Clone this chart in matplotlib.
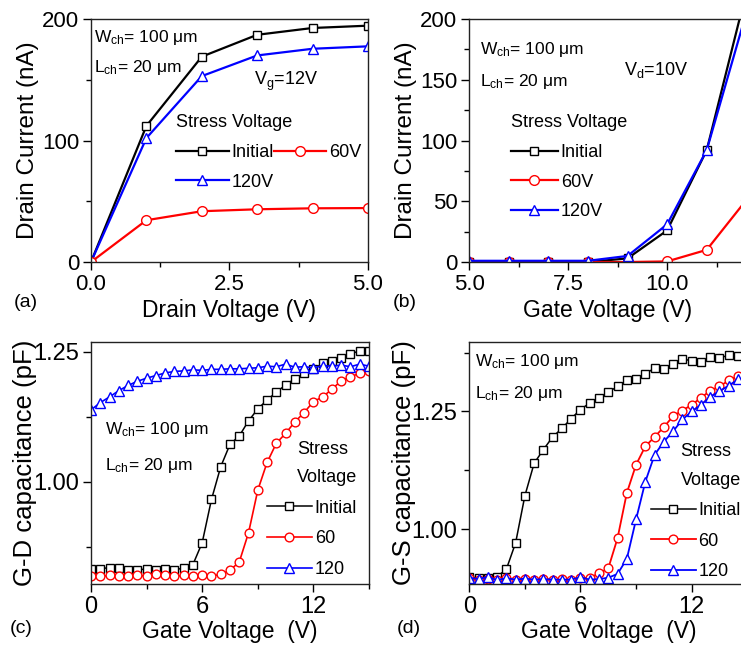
import numpy as np
import matplotlib
matplotlib.use("Agg")
from matplotlib import pyplot as plt

plt.rcParams['font.family'] = ['Liberation Sans', 'DejaVu Sans']
plt.rcParams['mathtext.fontset'] = 'custom'
plt.rcParams['mathtext.rm'] = 'Liberation Sans'
plt.rcParams['mathtext.it'] = 'Liberation Sans'

# (a) output curves at Vg = 12 V
drain_v = [0, 1, 2, 3, 4, 5]
id_vd_initial = [0, 112, 169, 187, 192.6, 194.5]
id_vd_60 = [0, 34.4, 41.8, 43.4, 44.2, 44.4]
id_vd_120 = [0, 102, 153, 170, 175.5, 177.5]

# (b) transfer curves at Vd = 10 V
gate_v = [5, 6, 7, 8, 9, 10, 11, 12]
id_vg_initial = [0, 0, 0, 0, 3, 26, 92, 222]
id_vg_60 = [0, 0, 0, 0, 0, 0.5, 10, 51]
id_vg_120 = [1, 1, 1, 1, 5, 31, 92, 205]

# (c), (d) C-V sweeps
cv_gate_v = [0, 0.5, 1, 1.5, 2, 2.5, 3, 3.5, 4, 4.5, 5, 5.5, 6, 6.5, 7, 7.5,
             8, 8.5, 9, 9.5, 10, 10.5, 11, 11.5, 12, 12.5, 13, 13.5, 14, 14.5, 15]
cgd_initial = [0.832, 0.833, 0.835, 0.834, 0.831, 0.830, 0.833, 0.831, 0.832, 0.831,
               0.834, 0.841, 0.883, 0.966, 1.029, 1.072, 1.088, 1.117, 1.140, 1.157,
               1.172, 1.186, 1.198, 1.208, 1.216, 1.228, 1.232, 1.238, 1.245, 1.252, 1.252]
cgd_60 = [0.819, 0.818, 0.820, 0.819, 0.818, 0.820, 0.819, 0.823, 0.820, 0.818,
          0.820, 0.819, 0.820, 0.819, 0.822, 0.830, 0.846, 0.902, 0.984, 1.037,
          1.074, 1.093, 1.115, 1.133, 1.154, 1.163, 1.178, 1.194, 1.202, 1.208, 1.213]
cgd_120 = [1.138, 1.152, 1.163, 1.175, 1.185, 1.193, 1.199, 1.204, 1.209, 1.212,
           1.213, 1.215, 1.214, 1.216, 1.216, 1.217, 1.217, 1.218, 1.219, 1.222,
           1.221, 1.226, 1.220, 1.221, 1.219, 1.223, 1.222, 1.224, 1.221, 1.226, 1.222]
cgs_initial = [0.898, 0.897, 0.896, 0.899, 0.915, 0.971, 1.071, 1.140, 1.169, 1.196,
               1.214, 1.235, 1.254, 1.268, 1.279, 1.291, 1.303, 1.316, 1.318, 1.330,
               1.342, 1.341, 1.350, 1.362, 1.357, 1.355, 1.366, 1.364, 1.369, 1.367, 1.368]
cgs_60 = [0.897, 0.892, 0.895, 0.893, 0.896, 0.893, 0.895, 0.892, 0.894, 0.893,
          0.895, 0.893, 0.896, 0.897, 0.906, 0.917, 0.981, 1.077, 1.137, 1.176,
          1.196, 1.217, 1.240, 1.252, 1.264, 1.279, 1.294, 1.303, 1.316, 1.325, 1.330]
cgs_120 = [0.897, 0.894, 0.899, 0.892, 0.896, 0.893, 0.895, 0.893, 0.894, 0.893,
           0.893, 0.893, 0.898, 0.893, 0.894, 0.897, 0.905, 0.937, 1.021, 1.101,
           1.158, 1.186, 1.208, 1.233, 1.250, 1.264, 1.281, 1.293, 1.305, 1.318, 1.322]

W_TEXT = r'W$_{\mathregular{ch}}$= 100 μm'
L_TEXT = r'L$_{\mathregular{ch}}$= 20 μm'

fig = plt.figure(figsize=(7.41, 6.46), dpi=100)
# axes boxes in figure fractions; right column runs past the figure edge
ax_a = fig.add_axes([0.1228, 0.5944, 0.3738, 0.3762])
ax_b = fig.add_axes([0.6333, 0.5944, 0.3738, 0.3762])
ax_c = fig.add_axes([0.1228, 0.0955, 0.3752, 0.3755])
ax_d = fig.add_axes([0.6333, 0.0955, 0.3752, 0.3755])


def style_axes(ax, tick_size):
    for sp in ax.spines.values():
        sp.set_linewidth(1.0)
        sp.set_color('#222222')
    ax.tick_params(which='both', direction='out', labelsize=tick_size,
                   top=False, right=False, pad=2.5)
    ax.tick_params(which='major', length=6, width=1)
    ax.tick_params(which='minor', length=3.5, width=1)


def draw(ax, x, y, marker, color, ms, lw, label):
    ax.plot(x, y, marker=marker, color=color, mfc='white', mec=color,
            ms=ms, lw=lw, mew=1.0, label=label)


def stress_legend(ax, anchor, **kw):
    leg = ax.legend(fontsize=13, title_fontsize=13, frameon=False, loc='upper left',
                    bbox_to_anchor=anchor, borderpad=0, handletextpad=0.15, **kw)
    leg.get_title().set_linespacing(1.9)
    return leg


# ---- (a)
draw(ax_a, drain_v, id_vd_initial, 's', 'black', 6, 1.6, 'Initial')
draw(ax_a, drain_v, id_vd_120, '^', 'blue', 7, 1.6, '120V')
draw(ax_a, drain_v, id_vd_60, 'o', 'red', 7, 1.6, '60V')
ax_a.set_xlim(0, 5)
ax_a.set_ylim(0, 200)
ax_a.set_xticks([0, 2.5, 5.0], ['0.0', '2.5', '5.0'])
ax_a.set_xticks([1.25, 3.75], minor=True)
ax_a.set_yticks([0, 100, 200])
ax_a.set_yticks([50, 150], minor=True)
ax_a.set_xlabel('Drain Voltage (V)', fontsize=16.5, labelpad=3)
ax_a.set_ylabel('Drain Current (nA)', fontsize=17.5, labelpad=2)
ax_a.text(0.01, 0.905, W_TEXT, transform=ax_a.transAxes, fontsize=12.5)
ax_a.text(0.01, 0.78, L_TEXT, transform=ax_a.transAxes, fontsize=12.5)
ax_a.text(0.59, 0.73, r'V$_{\mathregular{g}}$=12V', transform=ax_a.transAxes, fontsize=13)
stress_legend(ax_a, (0.275, 0.645), ncol=2, title='Stress Voltage',
              handlelength=2.9, columnspacing=0.0, labelspacing=0.7, alignment='left')

# ---- (b)
draw(ax_b, gate_v, id_vg_initial, 's', 'black', 6, 1.6, 'Initial')
draw(ax_b, gate_v, id_vg_60, 'o', 'red', 7, 1.6, '60V')
draw(ax_b, gate_v, id_vg_120, '^', 'blue', 7, 1.6, '120V')
ax_b.set_xlim(5, 12)
ax_b.set_ylim(0, 200)
ax_b.set_xticks([5, 7.5, 10], ['5.0', '7.5', '10.0'])
ax_b.set_xticks([6.25, 8.75, 11.25], minor=True)
ax_b.set_yticks([0, 50, 100, 150, 200])
ax_b.set_yticks([25, 75, 125, 175], minor=True)
ax_b.set_xlabel('Gate Voltage (V)', fontsize=16.5, labelpad=3)
ax_b.set_ylabel('Drain Current (nA)', fontsize=17.5, labelpad=2)
ax_b.text(0.04, 0.855, W_TEXT, transform=ax_b.transAxes, fontsize=12.5)
ax_b.text(0.04, 0.725, L_TEXT, transform=ax_b.transAxes, fontsize=12.5)
ax_b.text(0.56, 0.77, r'V$_{\mathregular{d}}$=10V', transform=ax_b.transAxes, fontsize=13)
stress_legend(ax_b, (0.118, 0.645), title='Stress Voltage',
              handlelength=2.6, labelspacing=0.7, alignment='left')

# ---- (c)
draw(ax_c, cv_gate_v, cgd_initial, 's', 'black', 5.5, 1.1, 'Initial')
draw(ax_c, cv_gate_v, cgd_60, 'o', 'red', 6.3, 1.2, '60')
draw(ax_c, cv_gate_v, cgd_120, '^', 'blue', 6.8, 1.2, '120')
ax_c.set_xlim(0, 15)
ax_c.set_ylim(0.803, 1.269)
ax_c.set_xticks([0, 6, 12])
ax_c.set_xticks([3, 9, 15], minor=True)
ax_c.set_yticks([1.00, 1.25], ['1.00', '1.25'])
ax_c.set_yticks([0.875, 1.125], minor=True)
ax_c.set_xlabel('Gate Voltage  (V)', fontsize=16.5, labelpad=1)
ax_c.set_ylabel('G-D capacitance (pF)', fontsize=18.5, labelpad=-3)
ax_c.text(0.05, 0.62, W_TEXT, transform=ax_c.transAxes, fontsize=12.5)
ax_c.text(0.05, 0.47, L_TEXT, transform=ax_c.transAxes, fontsize=12.5)
stress_legend(ax_c, (0.60, 0.63), title='Stress\nVoltage',
              handlelength=2.5, labelspacing=0.75, alignment='right')

# ---- (d)
draw(ax_d, cv_gate_v, cgs_initial, 's', 'black', 5.5, 1.1, 'Initial')
draw(ax_d, cv_gate_v, cgs_60, 'o', 'red', 6.3, 1.3, '60')
draw(ax_d, cv_gate_v, cgs_120, '^', 'blue', 6.8, 1.3, '120')
ax_d.set_xlim(0, 15)
ax_d.set_ylim(0.883, 1.398)
ax_d.set_xticks([0, 6, 12])
ax_d.set_xticks([3, 9, 15], minor=True)
ax_d.set_yticks([1.00, 1.25], ['1.00', '1.25'])
ax_d.set_yticks([1.125, 1.375], minor=True)
ax_d.set_xlabel('Gate Voltage  (V)', fontsize=16.5, labelpad=1)
ax_d.set_ylabel('G-S capacitance (pF)', fontsize=18.5, labelpad=-3)
ax_d.text(0.02, 0.9, W_TEXT, transform=ax_d.transAxes, fontsize=12.5)
ax_d.text(0.02, 0.77, L_TEXT, transform=ax_d.transAxes, fontsize=12.5)
stress_legend(ax_d, (0.62, 0.62), title='Stress\nVoltage',
              handlelength=2.5, labelspacing=0.75, alignment='right')

style_axes(ax_a, 16)
style_axes(ax_b, 16)
style_axes(ax_c, 17)
style_axes(ax_d, 17)

# panel letters
fig.text(0.018, 0.525, '(a)', fontsize=14)
fig.text(0.530, 0.525, '(b)', fontsize=14)
fig.text(0.013, 0.02, '(c)', fontsize=14)
fig.text(0.535, 0.02, '(d)', fontsize=14)

fig.savefig('out.png', dpi=100)
